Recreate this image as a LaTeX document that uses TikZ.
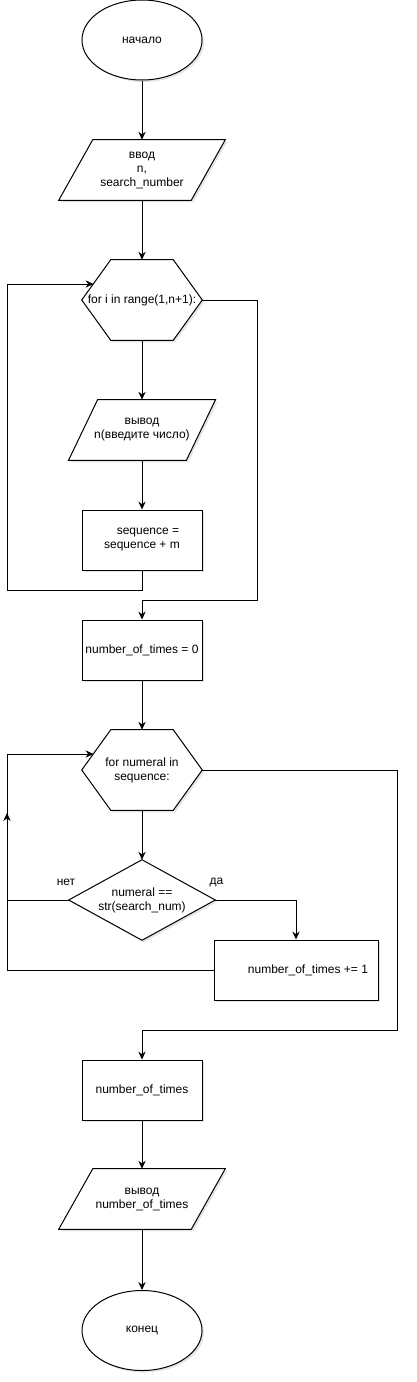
\documentclass[tikz,border=0pt]{standalone}
\usepackage{fontspec}
\setmainfont{Liberation Sans}
\usetikzlibrary{arrows.meta,backgrounds,shapes.geometric,calc}
\begin{document}
\begin{tikzpicture}[x=0.75pt,y=-0.75pt,
  every node/.style={font=\fontsize{9pt}{10.5pt}\selectfont, align=center, inner sep=0pt},
  shp/.style={draw=black, line width=0.75pt, fill=white, preaction={fill=black!10, transform canvas={shift={(2,2)}}}},
  txt/.style={draw=none},
  term/.style={shp, ellipse, minimum width=90pt, minimum height=60pt},
  proc/.style={shp, rectangle, minimum width=90pt, minimum height=45pt},
  arr/.style={line width=0.75pt, -{Stealth[length=6pt,width=5.5pt,inset=2pt]}}]
\useasboundingbox (0,0) rectangle (417,1382);

\node[term] (start) at (142,40) {начало};
\node[txt, minimum width=99pt, minimum height=45pt] (in1) at (142,170) {ввод\\n,\\search\_number};
\node[txt, minimum width=90pt, minimum height=60pt] (h1) at (142,300) {for i in range(1,n+1):};
\node[txt, minimum width=88pt, minimum height=45pt] (out1) at (142,430) {вывод\\n(введите число)};
\node[proc] (seq) at (142,540) {\hspace*{9pt}sequence =\\sequence + m};
\node[proc] (nt0) at (142,650) {number\_of\_times = 0};
\node[txt, minimum width=90pt, minimum height=60pt] (h2) at (142,770) {for numeral in\\sequence:};
\node[txt, minimum width=109.5pt, minimum height=60pt] (dia) at (142,900) {numeral ==\\str(search\_num)};
\node[proc, minimum width=123pt] (inc) at (296,970) {\hspace*{18pt}number\_of\_times += 1};
\node[proc] (nt) at (142,1090) {number\_of\_times};
\node[txt, minimum width=99pt, minimum height=45pt] (out2) at (142,1199) {вывод\\number\_of\_times};
\node[term] (end) at (142,1330.5) {конец};
\node (yes) at (216.5,882) {да};
\node (no) at (66,882) {нет};

\begin{scope}[on background layer]
 \draw[shp] ([xshift=12.75pt]in1.north west) -- ([xshift=12.75pt]in1.north east) -- ([xshift=-12.75pt]in1.south east) -- ([xshift=-12.75pt]in1.south west) -- cycle;
 \draw[shp] ([xshift=10.9pt]out1.north west) -- ([xshift=10.9pt]out1.north east) -- ([xshift=-10.9pt]out1.south east) -- ([xshift=-10.9pt]out1.south west) -- cycle;
 \draw[shp] ([xshift=12.75pt]out2.north west) -- ([xshift=12.75pt]out2.north east) -- ([xshift=-12.75pt]out2.south east) -- ([xshift=-12.75pt]out2.south west) -- cycle;
 \draw[shp] (h1.west) -- ([xshift=21.75pt]h1.north west) -- ([xshift=-21.75pt]h1.north east) -- (h1.east) -- ([xshift=-21.75pt]h1.south east) -- ([xshift=21.75pt]h1.south west) -- cycle;
 \draw[shp] (h2.west) -- ([xshift=21.75pt]h2.north west) -- ([xshift=-21.75pt]h2.north east) -- (h2.east) -- ([xshift=-21.75pt]h2.south east) -- ([xshift=21.75pt]h2.south west) -- cycle;
 \draw[shp] (dia.north) -- (dia.east) -- (dia.south) -- (dia.west) -- cycle;
\end{scope}

\coordinate (lp1) at (7,590);
\coordinate (hin1) at (93.5,284);
\coordinate (rp1) at (257,600);
\coordinate (lp2) at (7,754);
\coordinate (hin2) at (93.5,754);
\coordinate (nup) at (7,813);
\coordinate (rp2) at (397,1030);

\draw[arr] (start.south) -- (in1.north);
\draw[arr] (in1.south) -- (h1.north);
\draw[arr] (h1.south) -- (out1.north);
\draw[arr] (out1.south) -- (seq.north);
\draw[arr] (seq.south) |- (lp1) |- (hin1);
\draw[arr] (h1.east) -| (rp1) -| (nt0.north);
\draw[arr] (nt0.south) -- (h2.north);
\draw[arr] (h2.south) -- (dia.north);
\draw[arr] (dia.east) -| (inc.north);
\draw[arr] (dia.west) -| (nup);
\draw[arr] (inc.west) -| (lp2) -- (hin2);
\draw[arr] (h2.east) -| (rp2) -| (nt.north);
\draw[arr] (nt.south) -- (out2.north);
\draw[arr] (out2.south) -- (end.north);
\end{tikzpicture}
\end{document}
